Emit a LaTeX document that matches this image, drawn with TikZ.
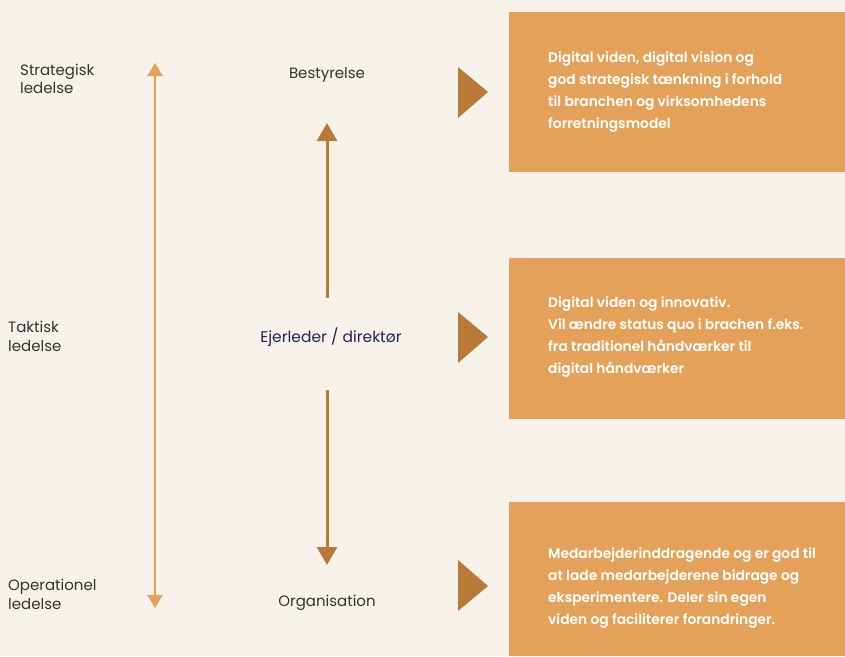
\documentclass[tikz,border=0pt]{standalone}
\usepackage{fontspec}
\setmainfont{Poppins}[BoldFont={Poppins SemiBold}]
\usetikzlibrary{arrows.meta}
\definecolor{cream}{HTML}{F6F2E9}
\definecolor{lightorange}{HTML}{E3A15A}
\definecolor{darkorange}{HTML}{B87A36}
\definecolor{navy}{HTML}{1F2452}
\definecolor{labelgray}{HTML}{333333}
\begin{document}
\begin{tikzpicture}[x=1pt,y=-1pt,
    level/.style={font=\fontsize{15}{18.5}\selectfont,text=labelgray,align=left,anchor=west,inner sep=0pt},
    role/.style={font=\fontsize{15}{18}\selectfont,text=labelgray,inner sep=0pt},
    infobox/.style={fill=lightorange,minimum width=336pt,inner sep=0pt},
    infotext/.style={font=\bfseries\fontsize{13.8}{22}\selectfont,text=white,align=left,anchor=west,inner sep=0pt},
    pointer/.style={fill=darkorange}]
    \fill[cream] (0,0) rectangle (845,656);
    \useasboundingbox (0,0) rectangle (845,656);
    \node [level] (strat) at (20,79) {Strategisk\\ledelse};
    \node [level] (takt) at (8,336.5) {Taktisk\\ledelse};
    \node [level] (oper) at (8,594.5) {Operationel\\ledelse};
    \coordinate (lefttop) at (155,63);
    \coordinate (leftbot) at (155,608);
    \draw [lightorange,line width=2pt,{Triangle[width=15pt,length=13pt]}-{Triangle[width=15pt,length=13pt]}] (lefttop) -- (leftbot);
    \node [role] (board) at (327,75) {Bestyrelse};
    \node [role,text=navy,font=\fontsize{15.5}{18}\selectfont] (owner) at (331,337) {Ejerleder / direktør};
    \node [role] (org) at (327,603) {Organisation};
    \coordinate (upstart) at (327,298);
    \coordinate (uptip) at (327,123);
    \coordinate (downstart) at (327,390);
    \coordinate (downtip) at (327,565);
    \draw [darkorange,line width=3pt,-{Triangle[width=20pt,length=18pt]}] (upstart) -- (uptip);
    \draw [darkorange,line width=3pt,-{Triangle[width=20pt,length=18pt]}] (downstart) -- (downtip);
    \fill [pointer] (458,67) -- (488,92) -- (458,118) -- cycle;
    \fill [pointer] (458,312) -- (488,337) -- (458,363) -- cycle;
    \fill [pointer] (458,560) -- (488,586) -- (458,611) -- cycle;
    \node [infobox,minimum height=160pt] (box1) at (677,92) {};
    \node [infobox,minimum height=161pt] (box2) at (677,338.5) {};
    \node [infobox,minimum height=154pt] (box3) at (677,579) {};
    \node [infotext] (text1) at (548,92) {Digital viden, digital vision og\\god strategisk tænkning i forhold\\til branchen og virksomhedens\\forretningsmodel};
    \node [infotext] (text2) at (548,336.5) {Digital viden og innovativ.\\Vil ændre status quo i brachen f.eks.\\fra traditionel håndværker til\\digital håndværker};
    \node [infotext] (text3) at (548,588) {Medarbejderinddragende og er god til\\at lade medarbejderene bidrage og\\eksperimentere. Deler sin egen\\viden og faciliterer forandringer.};
\end{tikzpicture}
\end{document}
